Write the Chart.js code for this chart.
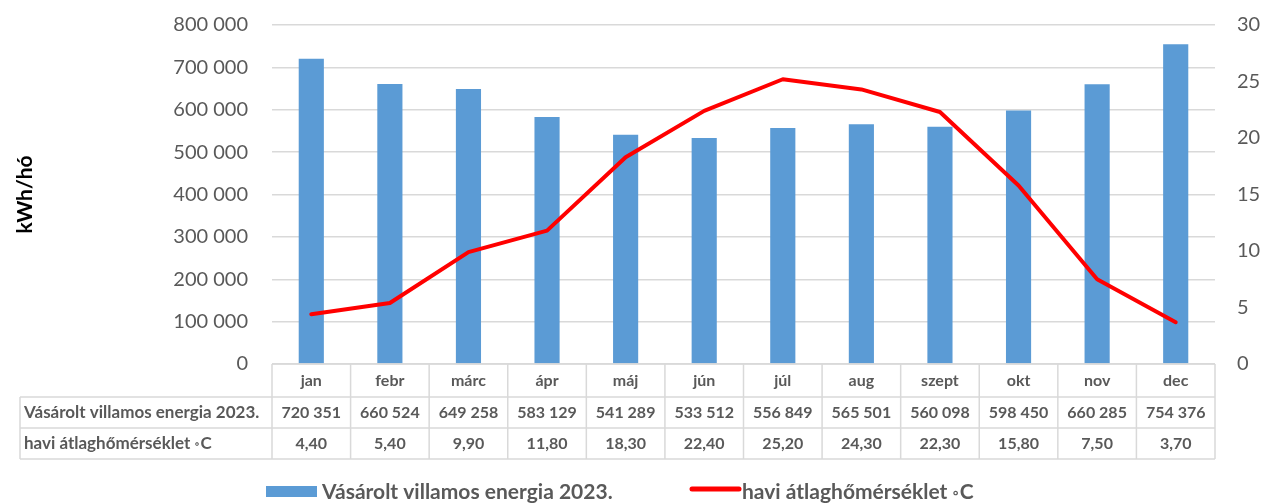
<!DOCTYPE html>
<html>
<head>
<meta charset="utf-8">
<script src="https://cdn.jsdelivr.net/npm/chart.js@4.4.0/dist/chart.umd.min.js"></script>
<style>
  html, body { margin: 0; padding: 0; background: #fff; }
  #wrap { width: 1265px; height: 503px; position: relative; }
</style>
</head>
<body>
<div id="wrap"><canvas id="energyChart"></canvas></div>
<script>
// month names (table header)
const months = ['jan', 'febr', 'márc', 'ápr', 'máj', 'jún', 'júl', 'aug', 'szept', 'okt', 'nov', 'dec'];

// purchased electricity, kWh per month
const energy2023 = [720351, 660524, 649258, 583129, 541289, 533512, 556849, 565501, 560098, 598450, 660285, 754376];

// monthly average temperature, °C
const avgTemp = [4.4, 5.4, 9.9, 11.8, 18.3, 22.4, 25.2, 24.3, 22.3, 15.8, 7.5, 3.7];

const energyLabel = 'Vásárolt villamos energia 2023.';
const tempLabel = 'havi átlaghőmérséklet ◦C';

const leftTicks = [0, 100000, 200000, 300000, 400000, 500000, 600000, 700000, 800000];
const rightTicks = [0, 5, 10, 15, 20, 25, 30];

const FONT = 'Lato, "Noto Sans", sans-serif';
const GREY = '#595959';
const GRID = '#d9d9d9';

function spaced(n) {
    return String(n).replace(/\B(?=(\d{3})+(?!\d))/g, ' ');
}

// label with a small raised degree ring
function drawDegLabel(ctx, text, x, y, size) {
    ctx.font = 'bold ' + size + 'px ' + FONT;
    ctx.fillText(text, x, y);
    const w = ctx.measureText(text).width;
    ctx.font = 'bold ' + Math.round(size * 0.7) + 'px ' + FONT;
    ctx.fillText('◦', x + w, y + 1);
    const w2 = ctx.measureText('◦').width;
    ctx.font = 'bold ' + size + 'px ' + FONT;
    ctx.fillText('C', x + w + w2 + 1, y);
}

// draws the data table under the plot plus the legend
const tablePlugin = {
    id: 'dataTable',
    afterDraw(chart) {
        const ctx = chart.ctx;
        const x = chart.scales.x;
        const area = chart.chartArea;
        const left = 20;
        const top = area.bottom;
        const r1 = top + 33, r2 = r1 + 31, r3 = r2 + 31;
        const step = (area.right - area.left) / months.length;

        ctx.save();
        ctx.strokeStyle = GRID;
        ctx.lineWidth = 1.5;
        ctx.beginPath();
        ctx.moveTo(area.left, top); ctx.lineTo(area.right, top);
        [r1, r2, r3].forEach(y => { ctx.moveTo(left, y); ctx.lineTo(area.right, y); });
        ctx.moveTo(left, r1); ctx.lineTo(left, r3);
        for (let i = 0; i <= months.length; i++) {
            const vx = area.left + i * step;
            ctx.moveTo(vx, top); ctx.lineTo(vx, r3);
        }
        ctx.stroke();

        ctx.fillStyle = GREY;
        ctx.textBaseline = 'middle';
        ctx.textAlign = 'left';
        ctx.font = 'bold 17px ' + FONT;
        ctx.fillText(energyLabel, 24, (r1 + r2) / 2);
        drawDegLabel(ctx, 'havi átlaghőmérséklet ', 24, (r2 + r3) / 2, 17);

        ctx.textAlign = 'center';
        ctx.font = 'bold 16px ' + FONT;
        months.forEach((m, i) => {
            const cx = x.getPixelForValue(i);
            ctx.fillText(m, cx, (top + r1) / 2);
            ctx.fillText(spaced(energy2023[i]), cx, (r1 + r2) / 2);
            ctx.fillText(avgTemp[i].toFixed(2).replace('.', ','), cx, (r2 + r3) / 2);
        });

        // legend
        const ly = 492;
        ctx.fillStyle = '#5b9bd5';
        ctx.fillRect(266, ly - 6, 51, 11);
        ctx.fillStyle = GREY;
        ctx.textAlign = 'left';
        ctx.font = 'bold 21px ' + FONT;
        ctx.fillText(energyLabel, 322, ly);
        ctx.strokeStyle = '#ff0000';
        ctx.lineWidth = 5;
        ctx.lineCap = 'round';
        ctx.beginPath();
        ctx.moveTo(692, ly - 3); ctx.lineTo(739, ly - 3);
        ctx.stroke();
        drawDegLabel(ctx, 'havi átlaghőmérséklet ', 742, ly, 21);
        ctx.restore();
    }
};

function noPad(s, w) {
    s.width = w;
    s.paddingTop = 0;
    s.paddingBottom = 0;
}

const ctx = document.getElementById('energyChart').getContext('2d');
new Chart(ctx, {
    data: {
        labels: months,
        datasets: [
            {
                type: 'line',
                label: tempLabel,
                data: avgTemp,
                yAxisID: 'y2',
                borderColor: '#ff0000',
                borderWidth: 4,
                pointRadius: 0,
                tension: 0,
                borderCapStyle: 'round',
                borderJoinStyle: 'round',
                order: 0
            },
            {
                type: 'bar',
                label: energyLabel,
                data: energy2023,
                yAxisID: 'y',
                backgroundColor: '#5b9bd5',
                barPercentage: 0.32,
                categoryPercentage: 1,
                order: 1
            }
        ]
    },
    options: {
        responsive: true,
        maintainAspectRatio: false,
        animation: false,
        layout: { padding: { top: 25, bottom: 139, left: 13, right: 0 } },
        plugins: {
            legend: { display: false },
            tooltip: { enabled: false }
        },
        scales: {
            x: {
                display: false,
                offset: true
            },
            y: {
                position: 'left',
                min: 0,
                max: 800000,
                afterBuildTicks: s => { s.ticks = leftTicks.map(v => ({ value: v })); },
                afterFit: s => noPad(s, 259),
                border: { display: false },
                grid: { color: GRID, lineWidth: 1.5, drawTicks: false },
                ticks: {
                    color: GREY,
                    font: { family: FONT, size: 20 },
                    padding: 24,
                    callback: v => spaced(v)
                },
                title: {
                    display: true,
                    text: 'kWh/hó',
                    color: '#000',
                    font: { family: FONT, size: 21, weight: 'bold' },
                    padding: { top: 0, bottom: 0 }
                }
            },
            y2: {
                position: 'right',
                min: 0,
                max: 30,
                afterBuildTicks: s => { s.ticks = rightTicks.map(v => ({ value: v })); },
                afterFit: s => noPad(s, 50),
                border: { display: false },
                grid: { drawOnChartArea: false, drawTicks: false },
                ticks: {
                    color: GREY,
                    font: { family: FONT, size: 20 },
                    padding: 22
                }
            }
        }
    },
    plugins: [tablePlugin]
});
</script>
</body>
</html>
